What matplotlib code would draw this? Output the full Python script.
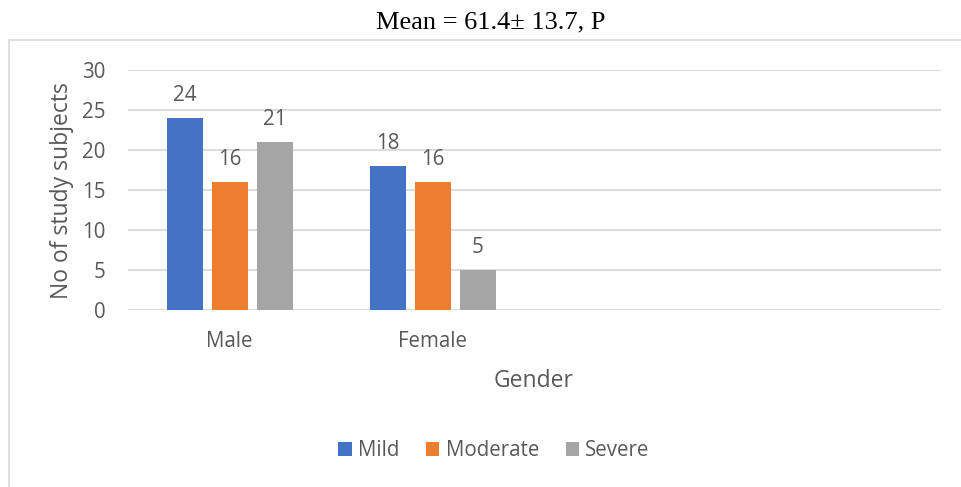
import matplotlib

matplotlib.use("Agg")
import matplotlib.pyplot as plt
from matplotlib.patches import Patch, Rectangle

# severity counts by gender (two trailing empty categories kept on the axis)
CATEGORIES = ["Male", "Female", "", ""]
MILD = [24, 18, None, None]
MODERATE = [16, 16, None, None]
SEVERE = [21, 5, None, None]
SERIES = ["Mild", "Moderate", "Severe"]
COLORS = ["#4472C4", "#ED7D31", "#A5A5A5"]
TITLE = "Mean = 61.4\u00b1 13.7, P"

TEXT = "#595959"
GRID = "#D9D9D9"
FONT = "Open Sans"
SMALL, BIG = 14.8, 16.5

W, H = 961, 487
fig = plt.figure(figsize=(W / 100, H / 100), dpi=100)

# chart frame (left and top edges visible, runs off to the right/bottom)
fig.patches.append(Rectangle((9 / W, -0.1), 1.2, 1 - 40 / H + 0.1,
                             transform=fig.transFigure, fill=False,
                             edgecolor=GRID, linewidth=1.2))

fig.text(491 / W, 1 - 22 / H, TITLE, ha="center", va="center",
         family="Liberation Serif", fontsize=19, color="black")

ax = fig.add_axes([128 / W, 1 - 310 / H, (941 - 128) / W, (310 - 70) / H])
ax.set_xlim(-0.5, len(CATEGORIES) - 0.5)
ax.set_ylim(0, 30)
ax.set_yticks(range(0, 31, 5))
ax.grid(axis="y", color=GRID, linewidth=1.3)
ax.set_axisbelow(True)
for s in ax.spines.values():
    s.set_visible(False)

step, width = 0.221, 0.177
for k, (vals, color) in enumerate(zip([MILD, MODERATE, SEVERE], COLORS)):
    for i, v in enumerate(vals):
        if v is None:
            continue
        x = i + (k - 1) * step
        ax.bar(x, v, width=width, color=color)
        ax.annotate(str(v), (x, v), xytext=(0, 16.5), textcoords="offset points",
                    ha="center", va="center", fontsize=SMALL, color=TEXT,
                    family=FONT)

ax.set_xticks(range(len(CATEGORIES)))
ax.set_xticklabels(CATEGORIES)
ax.tick_params(axis="both", length=0, labelsize=SMALL, labelcolor=TEXT)
ax.tick_params(axis="y", pad=16)
ax.tick_params(axis="x", pad=15)
for lab in ax.get_xticklabels() + ax.get_yticklabels():
    lab.set_family(FONT)

ax.set_ylabel("No of study subjects", fontsize=BIG, color=TEXT, family=FONT)
ax.yaxis.set_label_coords(-(128 - 74) / (941 - 128), (310 - 191) / (310 - 70))
fig.text(534 / W, 1 - 381 / H, "Gender", ha="center", va="center",
         fontsize=BIG, color=TEXT, family=FONT)

handles = [Patch(facecolor=c, label=l) for c, l in zip(COLORS, SERIES)]
leg = fig.legend(handles=handles, loc="center", ncol=3,
                 bbox_to_anchor=(494 / W, 1 - 451 / H), frameon=False,
                 handlelength=0.65, handleheight=0.65, handletextpad=0.3,
                 columnspacing=1.3, prop={"family": FONT, "size": SMALL})
for t in leg.get_texts():
    t.set_color(TEXT)

fig.savefig("out.png", dpi=100, facecolor="white")
